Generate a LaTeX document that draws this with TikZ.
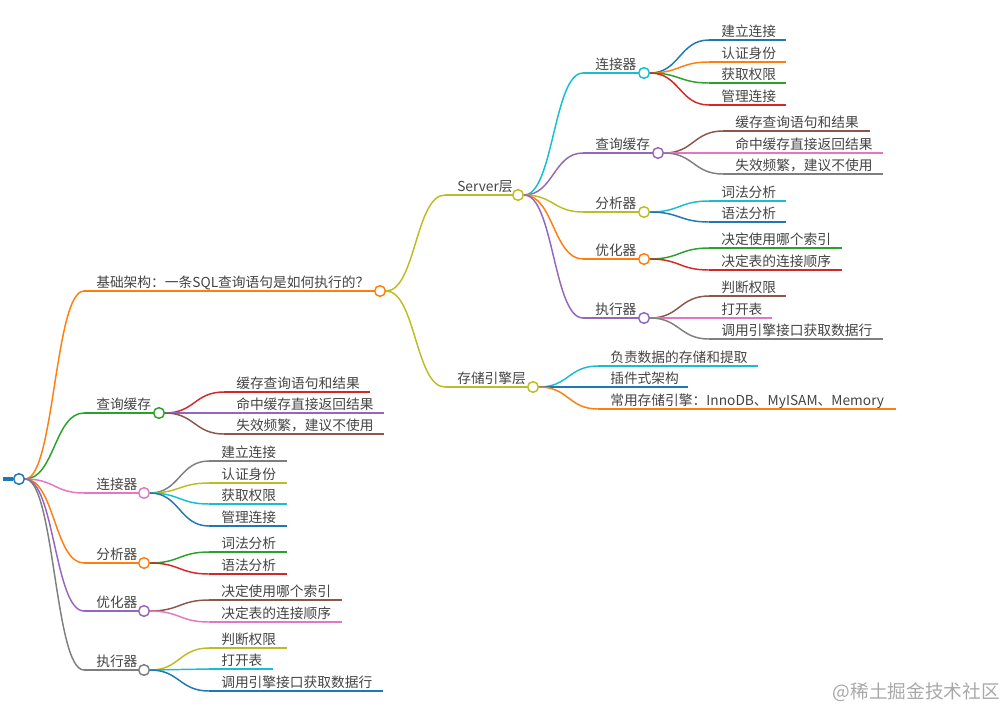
\documentclass[tikz,border=0pt]{standalone}
\usepackage{fontspec}
\setmainfont{Noto Sans CJK SC}
\usetikzlibrary{calc}
\definecolor{cBlue}{HTML}{1F77B4}
\definecolor{cOrange}{HTML}{FF7F0E}
\definecolor{cGreen}{HTML}{2CA02C}
\definecolor{cRed}{HTML}{D62728}
\definecolor{cPurple}{HTML}{9467BD}
\definecolor{cBrown}{HTML}{8C564B}
\definecolor{cPink}{HTML}{E377C2}
\definecolor{cGray}{HTML}{7F7F7F}
\definecolor{cOlive}{HTML}{BCBD22}
\definecolor{cCyan}{HTML}{17BECF}
\definecolor{textgray}{HTML}{444444}
\definecolor{wmgray}{HTML}{A8A8A8}
\tikzset{
  mmtext/.style={inner sep=0pt, text=textgray, font=\fontsize{10.3}{12}\selectfont},
  mmline/.style={line width=1.1pt},
  mmlink/.style={line width=1.1pt,
    to path={let \p1=(\tikztostart), \p2=(\tikztotarget) in
      .. controls ({(\x1+\x2)/2},\y1) and ({(\x1+\x2)/2},\y2) .. (\tikztotarget)}},
  mmdot/.style={circle, fill=white, line width=1.1pt, minimum size=8pt, inner sep=0pt},
}
% name, parent, colour, text x, y, line end x, text
\newcommand\mmleaf[7]{%
  \coordinate (#1s) at ({#4-12},#5);
  \coordinate (#1e) at (#6,#5);
  \node[mmtext, anchor=base west] (#1) at (#4,{#5-4}) {#7};
  \draw[mmlink, #3] (#2.east) to (#1s);
  \draw[mmline, #3] (#1s) -- (#1e);
}
% name, parent, colour, text x, y, circle x, text
\newcommand\mmbranch[7]{%
  \node[mmdot, draw=#3] (#1c) at (#6,#5) {};
  \coordinate (#1s) at ({#4-12},#5);
  \node[mmtext, anchor=base west] (#1) at (#4,{#5-4}) {#7};
  \draw[mmlink, #3] (#2.east) to (#1s);
  \draw[mmline, #3] (#1s) -- (#1c.west);
}
\begin{document}
\begin{tikzpicture}[x=0.75pt, y=-0.75pt]
\useasboundingbox (0,0) rectangle (1006,708);
% root
\node[mmdot, draw=cBlue] (R) at (19,479) {};
\coordinate (Rstub) at (3,479);
\draw[cBlue, line width=3pt] (Rstub) -- (R.west);
% level 1
\mmbranch{A}{R}{cOrange}{96}{291}{380}{基础架构：一条SQL查询语句是如何执行的？}
\mmbranch{B}{R}{cGreen}{96}{413}{159}{查询缓存}
\mmbranch{C}{R}{cPink}{96}{493}{144}{连接器}
\mmbranch{D}{R}{cOrange}{96}{563}{144}{分析器}
\mmbranch{E}{R}{cPurple}{96}{611}{144}{优化器}
\mmbranch{F}{R}{cGray}{96}{670}{144}{执行器}
% left children
\mmleaf{B1}{Bc}{cRed}{236}{392}{370}{缓存查询语句和结果}
\mmleaf{B2}{Bc}{cPurple}{236}{413}{384}{命中缓存直接返回结果}
\mmleaf{B3}{Bc}{cBrown}{236}{434}{384}{失效频繁，建议不使用}
\mmleaf{C1}{Cc}{cGray}{221}{461}{287}{建立连接}
\mmleaf{C2}{Cc}{cOlive}{221}{483}{287}{认证身份}
\mmleaf{C3}{Cc}{cCyan}{221}{504}{287}{获取权限}
\mmleaf{C4}{Cc}{cBlue}{221}{526}{287}{管理连接}
\mmleaf{D1}{Dc}{cGreen}{221}{552}{287}{词法分析}
\mmleaf{D2}{Dc}{cRed}{221}{574}{287}{语法分析}
\mmleaf{E1}{Ec}{cBrown}{221}{600}{342}{决定使用哪个索引}
\mmleaf{E2}{Ec}{cPink}{221}{622}{342}{决定表的连接顺序}
\mmleaf{F1}{Fc}{cOlive}{221}{648}{287}{判断权限}
\mmleaf{F2}{Fc}{cCyan}{221}{669}{273}{打开表}
\mmleaf{F3}{Fc}{cBlue}{221}{691}{383}{调用引擎接口获取数据行}
% right side
\mmbranch{S}{Ac}{cOlive}{457}{195}{518}{Server层}
\mmbranch{T}{Ac}{cOlive}{457}{387}{533}{存储引擎层}
\mmbranch{G}{Sc}{cCyan}{595}{73}{644}{连接器}
\mmbranch{H}{Sc}{cPurple}{595}{153}{658}{查询缓存}
\mmbranch{I}{Sc}{cOlive}{595}{212}{644}{分析器}
\mmbranch{J}{Sc}{cOrange}{595}{259}{644}{优化器}
\mmbranch{K}{Sc}{cPurple}{595}{318}{644}{执行器}
\mmleaf{G1}{Gc}{cBlue}{721}{40}{786}{建立连接}
\mmleaf{G2}{Gc}{cOrange}{721}{62}{786}{认证身份}
\mmleaf{G3}{Gc}{cGreen}{721}{83}{786}{获取权限}
\mmleaf{G4}{Gc}{cRed}{721}{105}{786}{管理连接}
\mmleaf{H1}{Hc}{cBrown}{735}{131}{870}{缓存查询语句和结果}
\mmleaf{H2}{Hc}{cPink}{735}{153}{883}{命中缓存直接返回结果}
\mmleaf{H3}{Hc}{cGray}{735}{174}{883}{失效频繁，建议不使用}
\mmleaf{I1}{Ic}{cCyan}{721}{201}{786}{词法分析}
\mmleaf{I2}{Ic}{cBlue}{721}{222}{786}{语法分析}
\mmleaf{J1}{Jc}{cGreen}{721}{248}{842}{决定使用哪个索引}
\mmleaf{J2}{Jc}{cRed}{721}{270}{842}{决定表的连接顺序}
\mmleaf{K1}{Kc}{cBrown}{721}{296}{786}{判断权限}
\mmleaf{K2}{Kc}{cPink}{721}{318}{772}{打开表}
\mmleaf{K3}{Kc}{cGray}{721}{339}{883}{调用引擎接口获取数据行}
\mmleaf{T1}{Tc}{cCyan}{610}{366}{758}{负责数据的存储和提取}
\mmleaf{T2}{Tc}{cBlue}{610}{387}{688}{插件式架构}
\mmleaf{T3}{Tc}{cOrange}{610}{409}{896}{常用存储引擎：InnoDB、MyISAM、Memory}
% watermark
\node[anchor=east, inner sep=0pt, text=wmgray, font=\fontsize{14}{16}\selectfont] (wm) at (1000,692) {@稀土掘金技术社区};
\end{tikzpicture}
\end{document}
